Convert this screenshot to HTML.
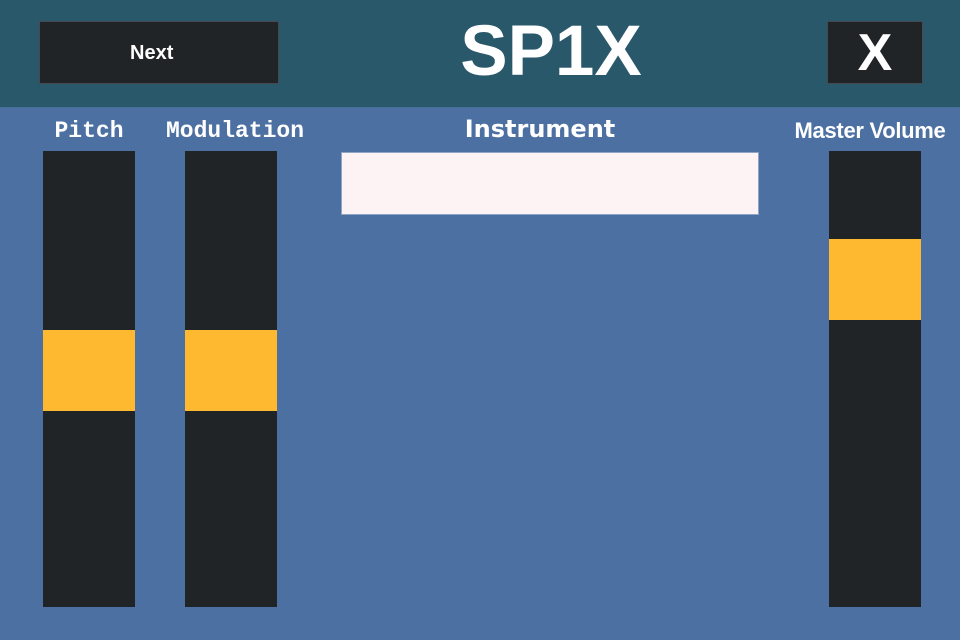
<!DOCTYPE html>
<html><head><meta charset="utf-8"><style>
*{margin:0;padding:0;box-sizing:border-box}
body{width:960px;height:640px;overflow:hidden;background:#4d70a3;position:relative;font-family:"Liberation Sans",sans-serif}
.abs{position:absolute}
#header{left:0;top:0;width:960px;height:108px;background:#2a586b;border-bottom:1px solid #46709a}
.btn{background:#212427;border:1px solid #444a50;color:#fff;font-weight:bold;display:flex;align-items:center;justify-content:center}
.track{background:#212427}
.thumb{background:#ffb930;left:0;width:100%}
.lbl{color:#fff;font-weight:bold;text-align:center;white-space:nowrap}
</style></head><body>
<div id="header" class="abs"></div>
<div class="abs btn" style="left:39px;top:21px;width:240px;height:63px;font-size:20px;padding-left:0;padding-top:2px;justify-content:flex-start;padding-left:90px">Next</div>
<div class="abs lbl" style="left:401px;top:12px;width:300px;font-size:71px;line-height:80px">SP1X</div>
<div class="abs btn" style="left:827px;top:21px;width:96px;height:63px;font-size:52px">X</div>

<div class="abs lbl" style="left:19px;top:118px;width:140px;font-family:'Liberation Mono','DejaVu Sans Mono',monospace;font-size:23px">Pitch</div>
<div class="abs lbl" style="left:145px;top:118px;width:180px;font-family:'Liberation Mono','DejaVu Sans Mono',monospace;font-size:23px">Modulation</div>
<div class="abs lbl" style="left:400px;top:115px;width:280px;font-family:'DejaVu Sans',sans-serif;font-size:24px">Instrument</div>
<div class="abs lbl" style="left:770px;top:118px;width:200px;font-size:22px;letter-spacing:-0.3px">Master Volume</div>

<div class="abs track" style="left:43px;top:151px;width:92px;height:456px">
 <div class="abs thumb" style="top:179px;height:81px"></div></div>
<div class="abs track" style="left:185px;top:151px;width:92px;height:456px">
 <div class="abs thumb" style="top:179px;height:81px"></div></div>
<div class="abs track" style="left:829px;top:151px;width:92px;height:456px">
 <div class="abs thumb" style="top:88px;height:81px"></div></div>

<div class="abs" style="left:341px;top:152px;width:418px;height:63px;background:#fdf3f4;border:1px solid #8fa4c4"></div>
</body></html>
